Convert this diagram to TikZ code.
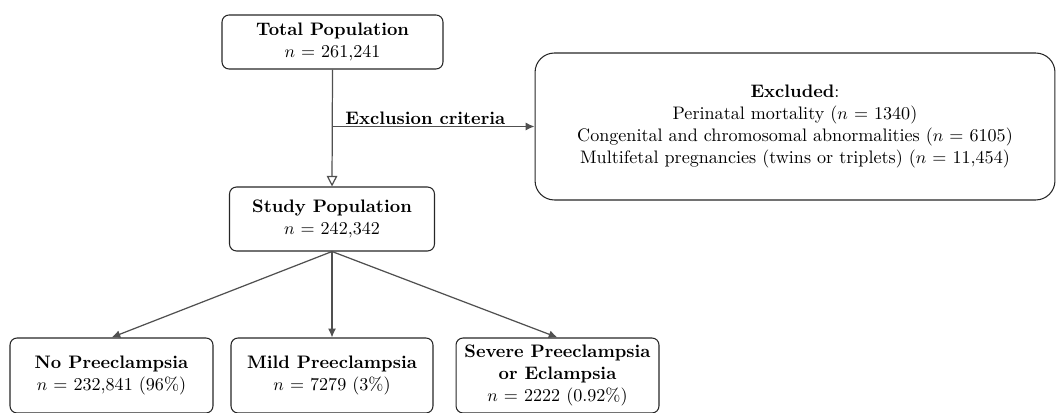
\documentclass[tikz,border=0pt]{standalone}
\usetikzlibrary{arrows.meta,positioning}
\definecolor{fcline}{HTML}{505050}
\definecolor{fcedge}{HTML}{262626}

\begin{document}
\begin{tikzpicture}[
    x=0.02cm, y=0.02cm,
    font=\fontsize{10.3}{12.6}\selectfont, >={Latex[length=5pt,width=4.5pt]},
    box/.style={draw=fcedge, line width=0.6pt, rounded corners=4pt,
                align=center, inner sep=2pt},
    link/.style={draw=fcline, line width=0.7pt}]
  \useasboundingbox (0,0) rectangle (1057,412);

  % boxes
  \node[box, minimum width=4.42cm, minimum height=1.08cm] (total) at (332.5,370)
       {\textbf{Total Population}\\$n$ = 261,241};
  \node[box, rounded corners=11pt, minimum width=10.4cm, minimum height=2.94cm] (excl) at (795,285.5)
       {\textbf{Excluded}:\\Perinatal mortality ($n$ = 1340)\\
        Congenital and chromosomal abnormalities ($n$ = 6105)\\
        Multifetal pregnancies (twins or triplets) ($n$ = 11,454)};
  \node[box, minimum width=4.1cm, minimum height=1.28cm] (study) at (332,193)
       {\textbf{Study Population}\\$n$ = 242,342};

  \node[box, minimum width=4.06cm, minimum height=1.5cm] (none) at (111.5,36.5)
       {\textbf{No Preeclampsia}\\$n$ = 232,841 (96\%)};
  \node[box, minimum width=4.04cm, minimum height=1.5cm] (mild) at (332,36.5)
       {\textbf{Mild Preeclampsia}\\$n$ = 7279 (3\%)};
  \node[box, minimum width=4.06cm, minimum height=1.5cm] (severe) at (557.5,36.5)
       {\textbf{Severe Preeclampsia}\\\textbf{or Eclampsia}\\$n$ = 2222 (0.92\%)};

  % exclusion step
  \coordinate (split) at (total.south |- excl.west);
  \draw[link, -{Triangle[open,length=6pt,width=6pt]}] (total.south) -- (study.north);
  \draw[link, ->] (split) -- (excl.west)
       node[pos=0, anchor=south west, inner sep=1pt, xshift=6pt] {\textbf{Exclusion criteria}};

  % groups
  \draw[link, ->] (study.south) -- (none.north);
  \draw[link, ->] (study.south) -- (mild.north);
  \draw[link, ->] (study.south) -- (severe.north);
\end{tikzpicture}
\end{document}
